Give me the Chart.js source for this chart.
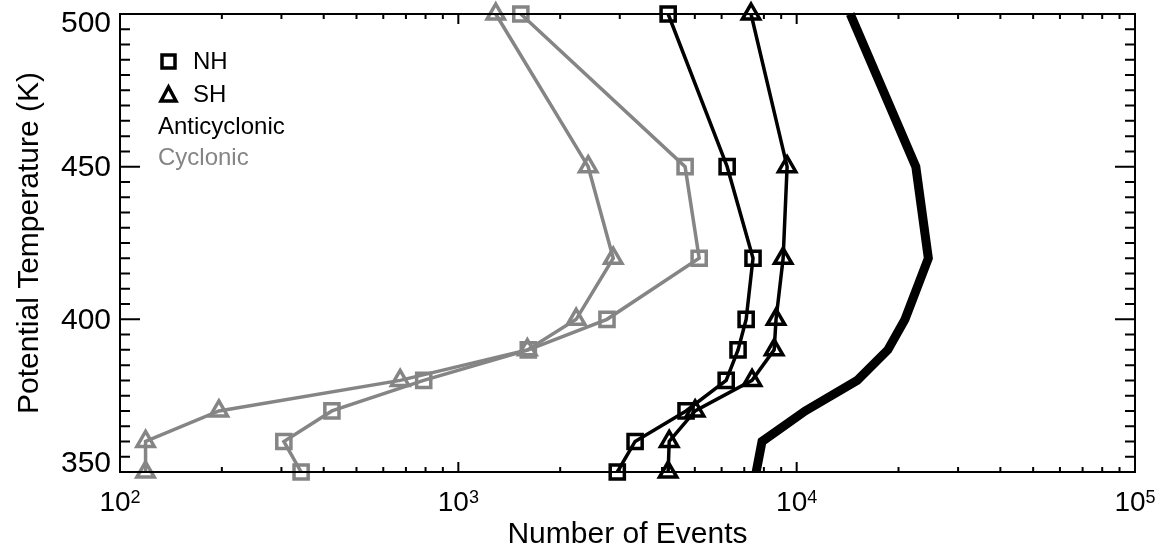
<!DOCTYPE html>
<html>
<head>
<meta charset="utf-8">
<script src="https://cdn.jsdelivr.net/npm/chart.js@4/dist/chart.umd.min.js"></script>
<style>
  html, body { margin: 0; padding: 0; background: #fff; }
  #wrap { width: 1166px; height: 552px; }
</style>
</head>
<body>
<div id="wrap"><canvas id="chart"></canvas></div>
<script>
// potential temperature levels (K)
const levels = [500, 450, 420, 400, 390, 380, 370, 360, 350];

// number of events per level
const antiNH = [4170, 6230, 7430, 7090, 6710, 6190, 4710, 3330, 2950];
const antiSH = [7330, 9370, 9120, 8690, 8580, 7380, 5010, 4200, 4170];
const cycNH = [1530, 4680, 5150, 2750, 1610, 790, 423, 305, 343];
const cycSH = [1290, 2420, 2870, 2230, 1600, 673, 196, 119, 119];
const total = [14400, 22500, 24500, 20900, 18600, 15100, 10600, 7900, 7590];

const yMajor = [350, 400, 450, 500];
const xDecades = [100, 1000, 10000, 100000];
const xExponents = ['2', '3', '4', '5'];

const GRAY = '#858585';
const FONT = '"Liberation Sans", Arial, Helvetica, sans-serif';

function points(values) {
    return values.map((v, i) => ({ x: v, y: levels[i] }));
}

function series(label, values, color, marker, width) {
    return {
        label: label,
        data: points(values),
        showLine: true,
        borderColor: color,
        borderWidth: width,
        pointStyle: marker,
        pointRadius: marker ? 10 : 0,
        pointBorderWidth: 3.5,
        pointBorderColor: color,
        pointBackgroundColor: 'rgba(0,0,0,0)',
        clip: false,
    };
}

// frame, inward ticks, labels and legend
const frame = {
    id: 'frame',
    afterDatasetsDraw(chart) {
        const ctx = chart.ctx;
        const a = chart.chartArea;
        const x = chart.scales.x;
        const y = chart.scales.y;

        ctx.save();
        ctx.strokeStyle = '#000';
        ctx.lineWidth = 2;
        ctx.strokeRect(a.left, a.top, a.right - a.left, a.bottom - a.top);

        ctx.beginPath();
        for (let v = 350; v <= 500; v += 5) {
            const py = y.getPixelForValue(v);
            const len = v % 50 === 0 ? 20 : 10;
            ctx.moveTo(a.left, py); ctx.lineTo(a.left + len, py);
            ctx.moveTo(a.right, py); ctx.lineTo(a.right - len, py);
        }
        for (let d = 100; d < 100000; d *= 10) {
            for (let m = 1; m < 10; m++) {
                const px = x.getPixelForValue(d * m);
                const len = m === 1 ? 10 : 5;
                ctx.moveTo(px, a.bottom); ctx.lineTo(px, a.bottom - len);
                ctx.moveTo(px, a.top); ctx.lineTo(px, a.top + len);
            }
        }
        ctx.stroke();

        ctx.fillStyle = '#000';
        ctx.font = '30px ' + FONT;
        ctx.textAlign = 'right';
        ctx.textBaseline = 'middle';
        yMajor.forEach(v => {
            let py = y.getPixelForValue(v);
            py = Math.min(Math.max(py, a.top + 9), a.bottom - 9);
            ctx.fillText(String(v), a.left - 9, py + 1);
        });

        ctx.textAlign = 'left';
        ctx.textBaseline = 'alphabetic';
        xDecades.forEach((v, i) => {
            const px = x.getPixelForValue(v);
            ctx.font = '28px ' + FONT;
            const wb = ctx.measureText('10').width;
            ctx.font = '18px ' + FONT;
            const we = ctx.measureText(xExponents[i]).width;
            const left = px - (wb + we) / 2;
            ctx.font = '28px ' + FONT;
            ctx.fillText('10', left, 511);
            ctx.font = '18px ' + FONT;
            ctx.fillText(xExponents[i], left + wb, 503);
        });

        ctx.font = '30px ' + FONT;
        ctx.textAlign = 'center';
        ctx.fillText('Number of Events', (a.left + a.right) / 2, 543);

        ctx.save();
        ctx.translate(40, (a.top + a.bottom) / 2);
        ctx.rotate(-Math.PI / 2);
        ctx.textBaseline = 'middle';
        ctx.fillText('Potential Temperature (K)', 0, -10);
        ctx.restore();

        // legend
        ctx.lineWidth = 3.5;
        ctx.strokeRect(162, 55, 13, 13);
        ctx.beginPath();
        ctx.moveTo(168.5, 87);
        ctx.lineTo(176, 101);
        ctx.lineTo(161, 101);
        ctx.closePath();
        ctx.stroke();
        ctx.font = '24px ' + FONT;
        ctx.textAlign = 'left';
        ctx.textBaseline = 'middle';
        ctx.fillText('NH', 193, 62);
        ctx.fillText('SH', 193, 95);
        ctx.fillText('Anticyclonic', 158, 127);
        ctx.fillStyle = GRAY;
        ctx.fillText('Cyclonic', 158, 158);
        ctx.restore();
    }
};

const config = {
    type: 'scatter',
    data: {
        datasets: [
            series('Cyclonic SH', cycSH, GRAY, 'triangle', 3.5),
            series('Cyclonic NH', cycNH, GRAY, 'rect', 3.5),
            series('Anticyclonic NH', antiNH, '#000', 'rect', 3.5),
            series('Anticyclonic SH', antiSH, '#000', 'triangle', 3.5),
            series('Total', total, '#000', false, 9),
        ],
    },
    options: {
        responsive: true,
        maintainAspectRatio: false,
        animation: false,
        layout: {
            padding: { left: 120, top: 14, right: 31, bottom: 80 },
        },
        plugins: {
            legend: { display: false },
            tooltip: { enabled: false },
        },
        scales: {
            x: {
                type: 'logarithmic',
                min: 100,
                max: 100000,
                display: false,
            },
            y: {
                type: 'linear',
                min: 350,
                max: 500,
                display: false,
            },
        },
    },
    plugins: [frame],
};

const element = document.getElementById('chart');
const chart = new Chart(element, config);
</script>
</body>
</html>
